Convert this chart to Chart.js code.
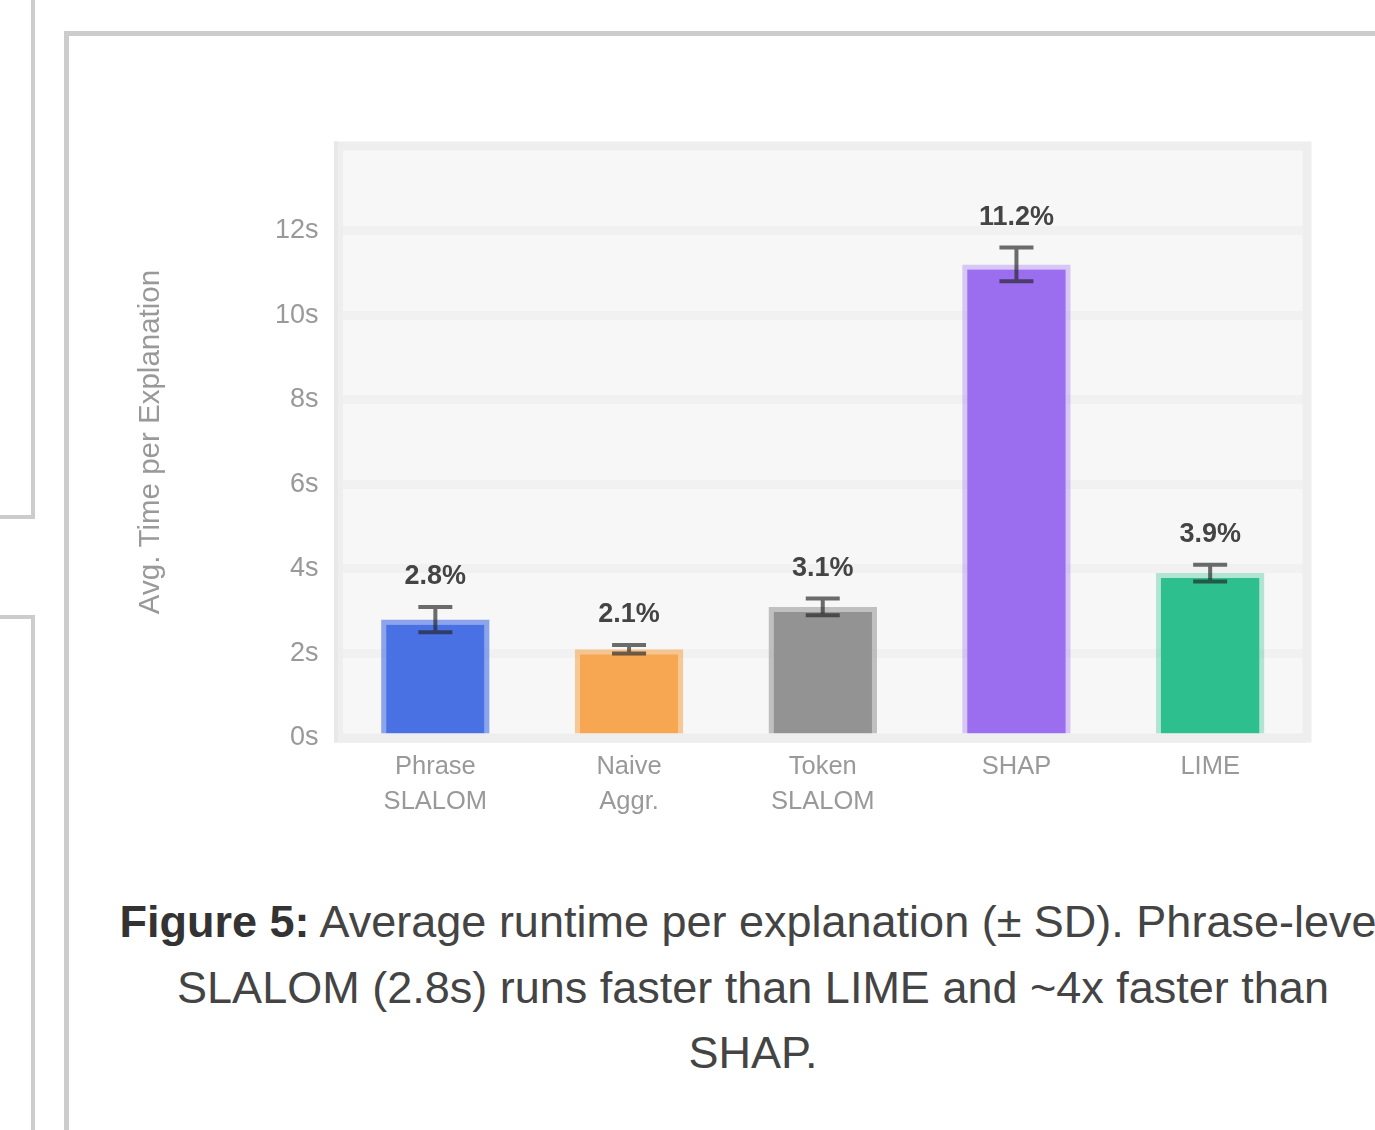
<!DOCTYPE html>
<html>
<head>
<meta charset="utf-8">
<title>Average runtime per explanation</title>
<script src="https://cdn.jsdelivr.net/npm/chart.js@4.4.1/dist/chart.umd.min.js"></script>
<style>
  html, body {
    margin: 0;
    padding: 0;
    width: 1375px;
    height: 1130px;
    overflow: hidden;
    background: #ffffff;
    font-family: "Liberation Sans", Arial, Helvetica, sans-serif;
  }
  .panel-prev {
    position: absolute;
    left: -100px;
    top: -100px;
    width: 131px;
    height: 615px;
    border-right: 4px solid #cccccc;
    border-bottom: 4px solid #cccccc;
  }
  .panel-next {
    position: absolute;
    left: -100px;
    top: 615px;
    width: 131px;
    height: 1000px;
    border-top: 4px solid #cccccc;
    border-right: 4px solid #cccccc;
  }
  .figure {
    position: absolute;
    left: 64px;
    top: 31px;
    width: 2000px;
    height: 2000px;
    border: 5px solid #cccccc;
    box-sizing: border-box;
  }
  #runtimeChart {
    position: absolute;
    left: 100px;
    top: 100px;
  }
  .caption {
    position: absolute;
    left: 53px;
    top: 889px;
    width: 1400px;
    text-align: center;
    font-size: 45px;
    line-height: 65.5px;
    color: #444444;
    white-space: nowrap;
  }
  .caption b {
    color: #333333;
  }
</style>
</head>
<body>
<div class="panel-prev"></div>
<div class="panel-next"></div>
<div class="figure"></div>
<canvas id="runtimeChart" width="1250" height="780"></canvas>
<div class="caption"><b>Figure 5:</b> Average runtime per explanation (± SD). Phrase-level<br>SLALOM (2.8s) runs faster than LIME and ~4x faster than<br>SHAP.</div>

<script>
// Methods compared (multi-line axis labels)
const categories = [
  ['Phrase', 'SLALOM'],
  ['Naive', 'Aggr.'],
  ['Token', 'SLALOM'],
  ['SHAP'],
  ['LIME']
];

// Mean runtime per explanation, in seconds
const meanSeconds = [2.8, 2.1, 3.1, 11.2, 3.9];

// Standard deviation of the runtime, in seconds
const sdSeconds = [0.3, 0.1, 0.2, 0.4, 0.2];

// Value labels printed above each bar
const valueLabels = ['2.8%', '2.1%', '3.1%', '11.2%', '3.9%'];

// Y axis ticks
const yTickValues = [0, 2, 4, 6, 8, 10, 12];
const yTickLabels = ['0s', '2s', '4s', '6s', '8s', '10s', '12s'];
const yAxisMax = 14;

const barFill = ['#4a71e4', '#f7a651', '#939393', '#9b6ef0', '#2ebf8e'];
const barEdge = [
  'rgba(74, 113, 228, 0.62)',
  'rgba(247, 166, 81, 0.6)',
  'rgba(147, 147, 147, 0.55)',
  'rgba(155, 110, 240, 0.35)',
  'rgba(46, 191, 142, 0.35)'
];

// Light plot background
const plotBackground = {
  id: 'plotBackground',
  beforeDraw(chart) {
    const { ctx, chartArea: a } = chart;
    ctx.save();
    ctx.fillStyle = '#f7f7f7';
    ctx.fillRect(a.left, a.top, a.right - a.left, a.bottom - a.top);
    ctx.restore();
  }
};

// Soft frame around the plotting area
const plotFrame = {
  id: 'plotFrame',
  beforeDatasetsDraw(chart) {
    const { ctx, chartArea: a } = chart;
    ctx.save();
    ctx.strokeStyle = '#eeeeee';
    ctx.lineWidth = 9;
    ctx.strokeRect(a.left, a.top, a.right - a.left, a.bottom - a.top);
    ctx.strokeStyle = '#e8e8e8';
    ctx.lineWidth = 4;
    ctx.beginPath();
    ctx.moveTo(a.left - 2.5, a.top - 4.5);
    ctx.lineTo(a.left - 2.5, a.bottom + 4.5);
    ctx.stroke();
    ctx.restore();
  }
};

// Error bars (± SD) and value labels
const errorBars = {
  id: 'errorBars',
  afterDatasetsDraw(chart) {
    const { ctx } = chart;
    const yScale = chart.scales.y;
    const meta = chart.getDatasetMeta(0);
    ctx.save();
    meta.data.forEach((bar, i) => {
      const x = bar.x;
      const yHi = yScale.getPixelForValue(meanSeconds[i] + sdSeconds[i]);
      const yLo = yScale.getPixelForValue(meanSeconds[i] - sdSeconds[i]);
      const capHalf = 17;
      ctx.strokeStyle = 'rgba(35, 35, 35, 0.66)';
      ctx.lineWidth = 4;
      ctx.lineCap = 'butt';
      ctx.beginPath();
      ctx.moveTo(x, yHi);
      ctx.lineTo(x, yLo);
      ctx.moveTo(x - capHalf, yHi);
      ctx.lineTo(x + capHalf, yHi);
      ctx.moveTo(x - capHalf, yLo);
      ctx.lineTo(x + capHalf, yLo);
      ctx.stroke();

      ctx.fillStyle = '#444444';
      ctx.font = 'bold 27px "Liberation Sans", Arial, sans-serif';
      ctx.textAlign = 'center';
      ctx.textBaseline = 'middle';
      ctx.fillText(valueLabels[i], x, yHi - 30);
    });
    ctx.restore();
  }
};

new Chart(document.getElementById('runtimeChart'), {
  type: 'bar',
  data: {
    labels: categories,
    datasets: [{
      data: meanSeconds,
      backgroundColor: barFill,
      borderColor: barEdge,
      borderWidth: 5,
      borderSkipped: 'bottom',
      categoryPercentage: 0.8,
      barPercentage: 0.7
    }]
  },
  options: {
    responsive: false,
    animation: false,
    devicePixelRatio: 1,
    layout: { padding: { top: 46, right: 43, bottom: 0, left: 0 } },
    plugins: {
      legend: { display: false },
      tooltip: { enabled: false },
      title: { display: false }
    },
    scales: {
      x: {
        grid: { display: false, drawTicks: false },
        border: { display: false },
        ticks: {
          color: '#999999',
          padding: 12,
          maxRotation: 0,
          autoSkip: false,
          font: { family: '"Liberation Sans", Arial, sans-serif', size: 25.5, lineHeight: 1.37 }
        },
        afterFit(scale) { scale.height = 142; }
      },
      y: {
        min: 0,
        max: yAxisMax,
        afterBuildTicks(scale) {
          scale.ticks = yTickValues.map(v => ({ value: v }));
        },
        grid: { color: '#f1f1f1', lineWidth: 9, drawTicks: false },
        border: { display: false },
        ticks: {
          color: '#999999',
          padding: 20,
          font: { family: '"Liberation Sans", Arial, sans-serif', size: 27 },
          callback(value) {
            const idx = yTickValues.indexOf(value);
            return idx >= 0 ? yTickLabels[idx] : '';
          }
        },
        title: {
          display: true,
          text: 'Avg. Time per Explanation',
          color: '#999999',
          padding: { top: 33, bottom: 0 },
          font: { family: '"Liberation Sans", Arial, sans-serif', size: 29.5 }
        },
        afterFit(scale) { scale.width = 238.5; }
      }
    }
  },
  plugins: [plotBackground, plotFrame, errorBars]
});
</script>
</body>
</html>
